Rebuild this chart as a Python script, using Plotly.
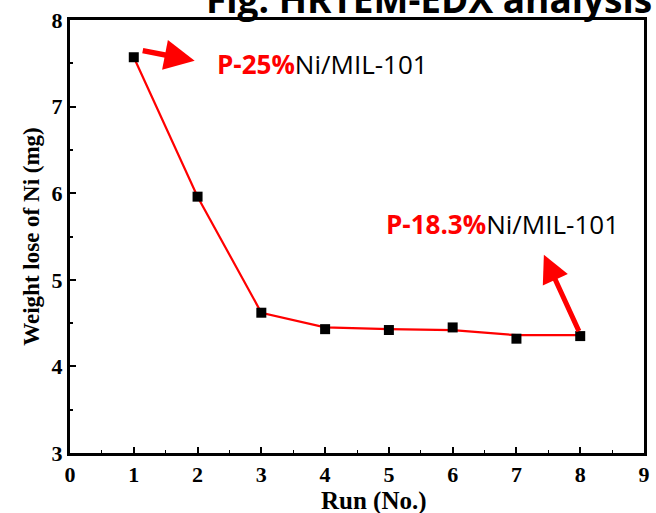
import plotly.graph_objects as go

# Weight loss of Ni over successive reaction runs
runs = [1, 2, 3, 4, 5, 6, 7, 8]
weight_loss = [7.57, 5.96, 4.62, 4.43, 4.42, 4.45, 4.32, 4.35]
# smoothed trend drawn through the runs
trend = [7.57, 5.96, 4.62, 4.45, 4.43, 4.42, 4.36, 4.36]

x_ticks = list(range(0, 10))
y_ticks = [3, 4, 5, 6, 7, 8]

fig = go.Figure()
fig.add_trace(go.Scatter(x=runs, y=trend, mode="lines",
                         line=dict(color="#ff0000", width=2.2),
                         showlegend=False, hoverinfo="skip"))
fig.add_trace(go.Scatter(x=runs, y=weight_loss, mode="markers",
                         marker=dict(symbol="square", size=10, color="black"),
                         showlegend=False))

axis_font = dict(family="Liberation Serif", size=22, color="black")

fig.update_xaxes(range=[0, 9], tickvals=x_ticks,
                 ticktext=[f"<b>{v}</b>" for v in x_ticks],
                 ticks="inside", ticklen=6, tickwidth=2, tickcolor="black",
                 minor=dict(ticks="inside", ticklen=3, tickwidth=1, dtick=0.5, tickcolor="black"),
                 showline=True, linewidth=3, linecolor="black", mirror=True,
                 showgrid=False, zeroline=False, tickfont=axis_font)
fig.update_yaxes(range=[3, 8], tickvals=y_ticks,
                 ticktext=[f"<b>{v}</b>" for v in y_ticks],
                 ticks="inside", ticklen=6, tickwidth=2, tickcolor="black",
                 minor=dict(ticks="inside", ticklen=3, tickwidth=2, dtick=0.5, tickcolor="black"),
                 showline=True, linewidth=3, linecolor="black", mirror=True,
                 showgrid=False, zeroline=False, tickfont=axis_font,
                 title=dict(text="<b>Weight lose of Ni (mg)</b>",
                            font=dict(family="Liberation Serif", size=23, color="black"),
                            standoff=6))

# x-axis title, set slightly right of the plot centre
fig.add_annotation(x=0.53, y=0, xref="paper", yref="paper", yshift=-32,
                   xanchor="center", yanchor="top", showarrow=False,
                   text="<b>Run (No.)</b>",
                   font=dict(family="Liberation Serif", size=25, color="black"))

label_font = dict(family="Open Sans", size=26, color="black")
fig.add_annotation(x=2.28, y=7.49, xref="x", yref="y", xanchor="left", yanchor="middle",
                   text="<b><span style='color:#ff0000'>P-25%</span></b>Ni/MIL-101",
                   showarrow=False, font=label_font)
fig.add_annotation(x=4.92, y=5.64, xref="x", yref="y", xanchor="left", yanchor="middle",
                   text="<b><span style='color:#ff0000'>P-18.3%</span></b>Ni/MIL-101",
                   showarrow=False, font=label_font)

# red arrows pointing from the first and last runs to their labels
fig.add_annotation(x=1.955, y=7.53, ax=1.117, ay=7.65, xref="x", yref="y",
                   axref="x", ayref="y", text="", showarrow=True,
                   arrowhead=2, arrowsize=1.1, arrowwidth=5.5, arrowcolor="#ff0000")
fig.add_annotation(x=7.43, y=5.29, ax=7.99, ay=4.39, xref="x", yref="y",
                   axref="x", ayref="y", text="", showarrow=True,
                   arrowhead=2, arrowsize=1.1, arrowwidth=5, arrowcolor="#ff0000")

fig.update_layout(width=656, height=513, plot_bgcolor="white", paper_bgcolor="white",
                  margin=dict(l=70, r=6, t=20, b=60))

# heading, partly above the page (positioned in paper units of the plot area)
pw = 656 - 70 - 6
ph = 513 - 20 - 60
fig.add_annotation(x=(205 - 70) / pw, y=(453 - 16) / ph, xref="paper", yref="paper",
                   text="<b>Fig. HRTEM-EDX analysis</b>", showarrow=False,
                   xanchor="left", yanchor="bottom", yshift=-10,
                   font=dict(family="Open Sans", size=37, color="black"))

fig.write_html("out.html")
